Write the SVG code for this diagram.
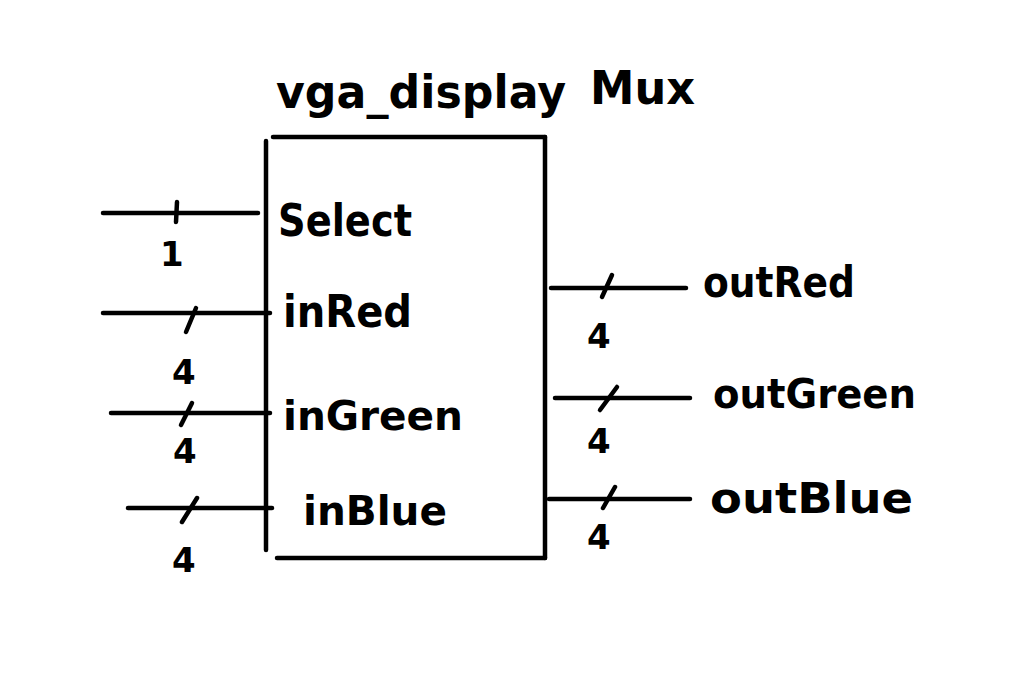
<svg xmlns="http://www.w3.org/2000/svg" width="1027" height="695" viewBox="0 0 1027 695">
<style>
.ln{stroke:#000;stroke-width:4.5;stroke-linecap:round;fill:none}
.lbl{font-family:"DejaVu Sans","Liberation Sans",sans-serif;font-weight:bold;fill:#000}
.num{font-family:"DejaVu Sans","Liberation Sans",sans-serif;font-weight:bold;fill:#000;font-size:34px}
</style>
<rect width="1027" height="695" fill="#fff"/>
<g id="mux">
<line class="ln" x1="273" y1="137" x2="545" y2="137"/>
<line class="ln" x1="266" y1="141" x2="266" y2="550"/>
<line class="ln" x1="545" y1="137" x2="545" y2="558"/>
<line class="ln" x1="277" y1="558" x2="545" y2="558"/>
<text class="lbl" x="276" y="108" font-size="46" textLength="290" lengthAdjust="spacingAndGlyphs">vga_display</text>
<text class="lbl" x="590" y="104" font-size="46" textLength="105" lengthAdjust="spacingAndGlyphs">Mux</text>
<text class="lbl" x="278" y="236" font-size="44" textLength="134" lengthAdjust="spacingAndGlyphs">Select</text>
<text class="lbl" x="283" y="327" font-size="44" textLength="129" lengthAdjust="spacingAndGlyphs">inRed</text>
<text class="lbl" x="283" y="430" font-size="40" textLength="180" lengthAdjust="spacingAndGlyphs">inGreen</text>
<text class="lbl" x="303" y="525" font-size="40" textLength="144" lengthAdjust="spacingAndGlyphs">inBlue</text>
</g>
<g id="outRed"><text class="lbl" x="703" y="297" font-size="42" textLength="152" lengthAdjust="spacingAndGlyphs">outRed</text></g>
<g id="outGreen"><text class="lbl" x="713" y="408" font-size="40" textLength="203" lengthAdjust="spacingAndGlyphs">outGreen</text></g>
<g id="outBlue"><text class="lbl" x="710" y="513" font-size="42" textLength="203" lengthAdjust="spacingAndGlyphs">outBlue</text></g>
<g id="connectors">
<line class="ln" x1="103" y1="213" x2="258" y2="213"/>
<line class="ln" x1="177" y1="202" x2="176" y2="222"/>
<text class="num" x="160" y="266">1</text>
<line class="ln" x1="103" y1="313" x2="270" y2="313"/>
<line class="ln" x1="196" y1="308" x2="186" y2="332"/>
<text class="num" x="172" y="384">4</text>
<line class="ln" x1="111" y1="413" x2="270" y2="413"/>
<line class="ln" x1="192" y1="403" x2="181" y2="425"/>
<text class="num" x="173" y="463">4</text>
<line class="ln" x1="128" y1="508" x2="272" y2="508"/>
<line class="ln" x1="197" y1="498" x2="182" y2="522"/>
<text class="num" x="172" y="572">4</text>
<line class="ln" x1="551" y1="288" x2="686" y2="288"/>
<line class="ln" x1="612" y1="275" x2="602" y2="297"/>
<text class="num" x="587" y="348">4</text>
<line class="ln" x1="555" y1="398" x2="690" y2="398"/>
<line class="ln" x1="617" y1="387" x2="600" y2="410"/>
<text class="num" x="587" y="453">4</text>
<line class="ln" x1="549" y1="499" x2="690" y2="499"/>
<line class="ln" x1="615" y1="487" x2="603" y2="508"/>
<text class="num" x="587" y="549">4</text>
</g>
</svg>
